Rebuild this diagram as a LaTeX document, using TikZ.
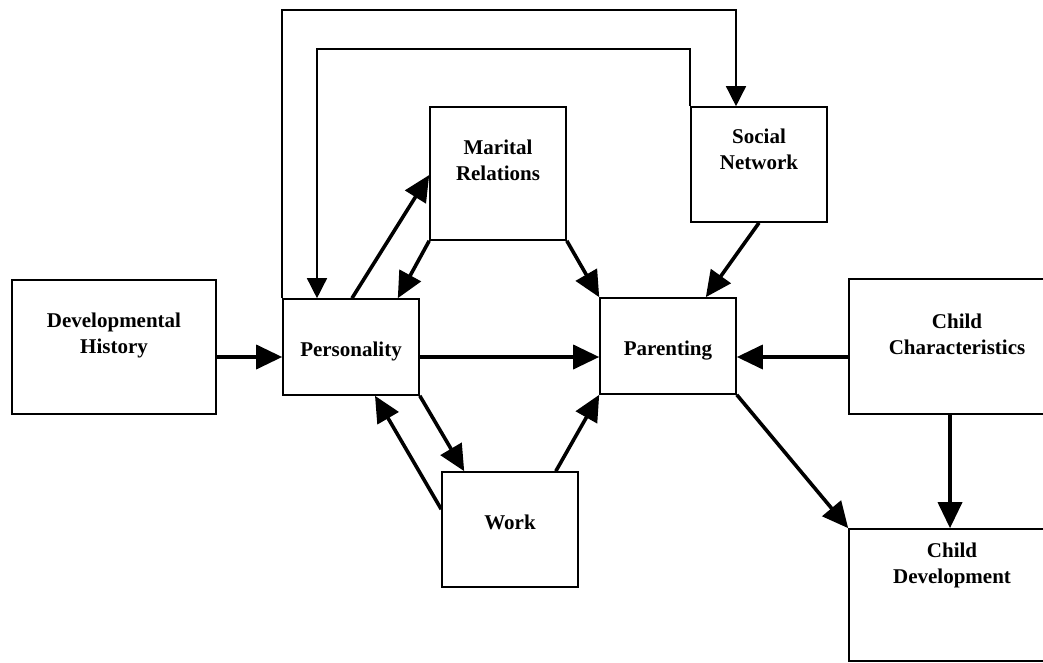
\documentclass[tikz,border=0pt]{standalone}
\usepackage{fontspec}
\setmainfont{Liberation Serif}
\usetikzlibrary{arrows.meta}

\begin{document}
\begin{tikzpicture}[x=1pt,y=-1pt,
    box/.style={draw,rectangle,line width=1.6pt,align=center,inner sep=2pt,
      font=\bfseries\fontsize{21}{26}\selectfont},
    link/.style={line width=3.6pt,-{Triangle[length=26pt,width=24pt]}},
    loopback/.style={line width=1.5pt,-{Triangle[length=20pt,width=20pt]}}]
  \useasboundingbox (0,0) rectangle (1043,663);
  \clip (0,0) rectangle (1043,663);

  \node[box,minimum width=204pt,minimum height=134pt,text depth=27pt] (hist) at (114,347)   {Developmental\\History};
  \node[box,minimum width=136pt,minimum height=96pt,text height=24pt] (pers) at (351,347)   {Personality};
  \node[box,minimum width=136pt,minimum height=133pt,text depth=26pt] (mar)  at (498,173.5) {Marital\\Relations};
  \node[box,minimum width=136pt,minimum height=115pt,text depth=30pt] (soc)  at (759,164.5) {Social\\Network};
  \node[box,minimum width=136pt,minimum height=96pt,text height=24pt] (par)  at (668,346)   {Parenting};
  \node[box,minimum width=136pt,minimum height=115pt,text depth=15pt] (work) at (510,529.5) {Work};
  \node[box,minimum width=216pt,minimum height=135pt,text depth=24pt] (cc)   at (957,346.5) {Child\\Characteristics};
  \node[box,minimum width=206pt,minimum height=132pt,text depth=64pt] (cd)   at (952,595)   {Child\\Development};

  \coordinate (top1) at (736,10);
  \coordinate (top2) at (317,49);

  \path[link] ([yshift=-10pt]hist.east)  edge ([yshift=-10pt]pers.west)
              ([yshift=-10pt]pers.east)  edge ([yshift=-11pt]par.west)
              ([yshift=-10.5pt]cc.west)  edge ([yshift=-11pt]par.east)
              ([xshift=1pt]pers.north)   edge ([yshift=-1.5pt]mar.west)
              (mar.south west)           edge ([xshift=-22pt]pers.north east)
              (mar.south east)           edge (par.north west)
              (soc.south)                edge ([xshift=-31pt]par.north east)
              (pers.south east)          edge ([xshift=23pt]work.north west)
              ([yshift=-38pt]work.north west) edge ([xshift=24pt]pers.south)
              ([xshift=-23pt]work.north east) edge (par.south west)
              (par.south east)           edge (cd.north west)
              ([xshift=-7pt]cc.south)    edge ([xshift=-7pt]cc.south |- cd.north);

  \draw[loopback] (pers.north west) |- (top1) -- (top1 |- soc.north);
  \draw[loopback] (soc.north west) |- (top2) -- (top2 |- pers.north);
\end{tikzpicture}
\end{document}
